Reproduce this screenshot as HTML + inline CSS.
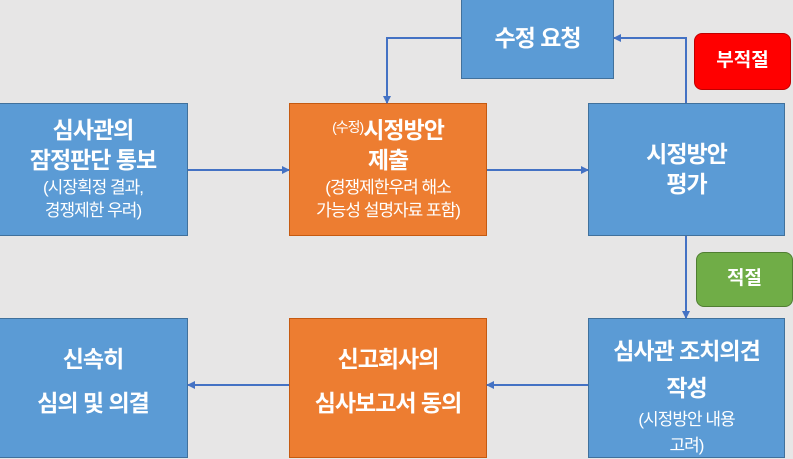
<!DOCTYPE html>
<html><head><meta charset="utf-8"><style>
body{margin:0;width:793px;height:446px;background:#e7e6e6;position:relative;overflow:hidden;font-family:"Liberation Sans","Noto Sans CJK KR",sans-serif;color:#fff}
.b{position:absolute;box-sizing:border-box;display:flex;flex-direction:column;align-items:center;justify-content:center;text-align:center;line-height:1.3}
.blue{background:#5b9bd5;border:1.5px solid #41719c}
.or{background:#ed7d31;border:1.5px solid #c55a11}
.t{font-size:23px;font-weight:bold;letter-spacing:-1px}
.s{font-size:17px;line-height:1.4;letter-spacing:-1px}
svg{position:absolute;left:0;top:0}
</style></head><body>
<div class="b blue" style="left:-2px;top:103px;width:190px;height:133px"><div class="t" style="line-height:1.3">심사관의<br>잠정판단 통보</div><div class="s">(시장획정 결과,<br>경쟁제한 우려)</div></div>
<div class="b or" style="left:289px;top:103px;width:198px;height:133px"><div class="t" style="line-height:1.3"><span style="font-size:14px;font-weight:normal;vertical-align:6px">(수정)</span>시정방안<br>제출</div><div class="s">(경쟁제한우려 해소<br>가능성 설명자료 포함)</div></div>
<div class="b blue" style="left:588px;top:103px;width:197px;height:133px"><div class="t" style="line-height:1.3">시정방안<br>평가</div></div>
<div class="b blue" style="left:461px;top:-2px;width:153px;height:81px"><div class="t">수정 요청</div></div>
<div class="b" style="left:694px;top:33px;width:97px;height:57px;background:#ff0000;border:1.5px solid #c00000;border-radius:8px"><div style="font-size:19px;font-weight:bold">부적절</div></div>
<div class="b" style="left:696px;top:252px;width:97px;height:55px;background:#70ad47;border:1.5px solid #507e32;border-radius:8px"><div style="font-size:19px;font-weight:bold">적절</div></div>
<div class="b blue" style="left:-2px;top:318px;width:190px;height:140px;padding-bottom:12px"><div class="t" style="line-height:1.9">신속히<br>심의 및 의결</div></div>
<div class="b or" style="left:289px;top:318px;width:198px;height:140px;padding-bottom:12px"><div class="t" style="line-height:1.9">신고회사의<br>심사보고서 동의</div></div>
<div class="b blue" style="left:588px;top:318px;width:197px;height:140px;justify-content:flex-start;padding-top:14px"><div class="t" style="line-height:1.6">심사관 조치의견<br>작성</div><div class="s" style="line-height:1.55">(시정방안 내용<br>고려)</div></div>
<svg width="793" height="446"><defs><marker id="a" markerWidth="8" markerHeight="8" refX="7" refY="4" orient="auto" markerUnits="userSpaceOnUse"><path d="M0,0L8,4L0,8z" fill="#4472c4"/></marker></defs>
<g stroke="#4472c4" stroke-width="2" fill="none" marker-end="url(#a)">
<line x1="188" y1="170" x2="289" y2="170"/>
<line x1="487" y1="170" x2="588" y2="170"/>
<polyline points="686,103 686,38 614,38"/>
<polyline points="461,38 387,38 387,103"/>
<line x1="686" y1="236" x2="686" y2="318"/>
<line x1="588" y1="385" x2="487" y2="385"/>
<line x1="289" y1="385" x2="188" y2="385"/>
</g></svg>
</body></html>
